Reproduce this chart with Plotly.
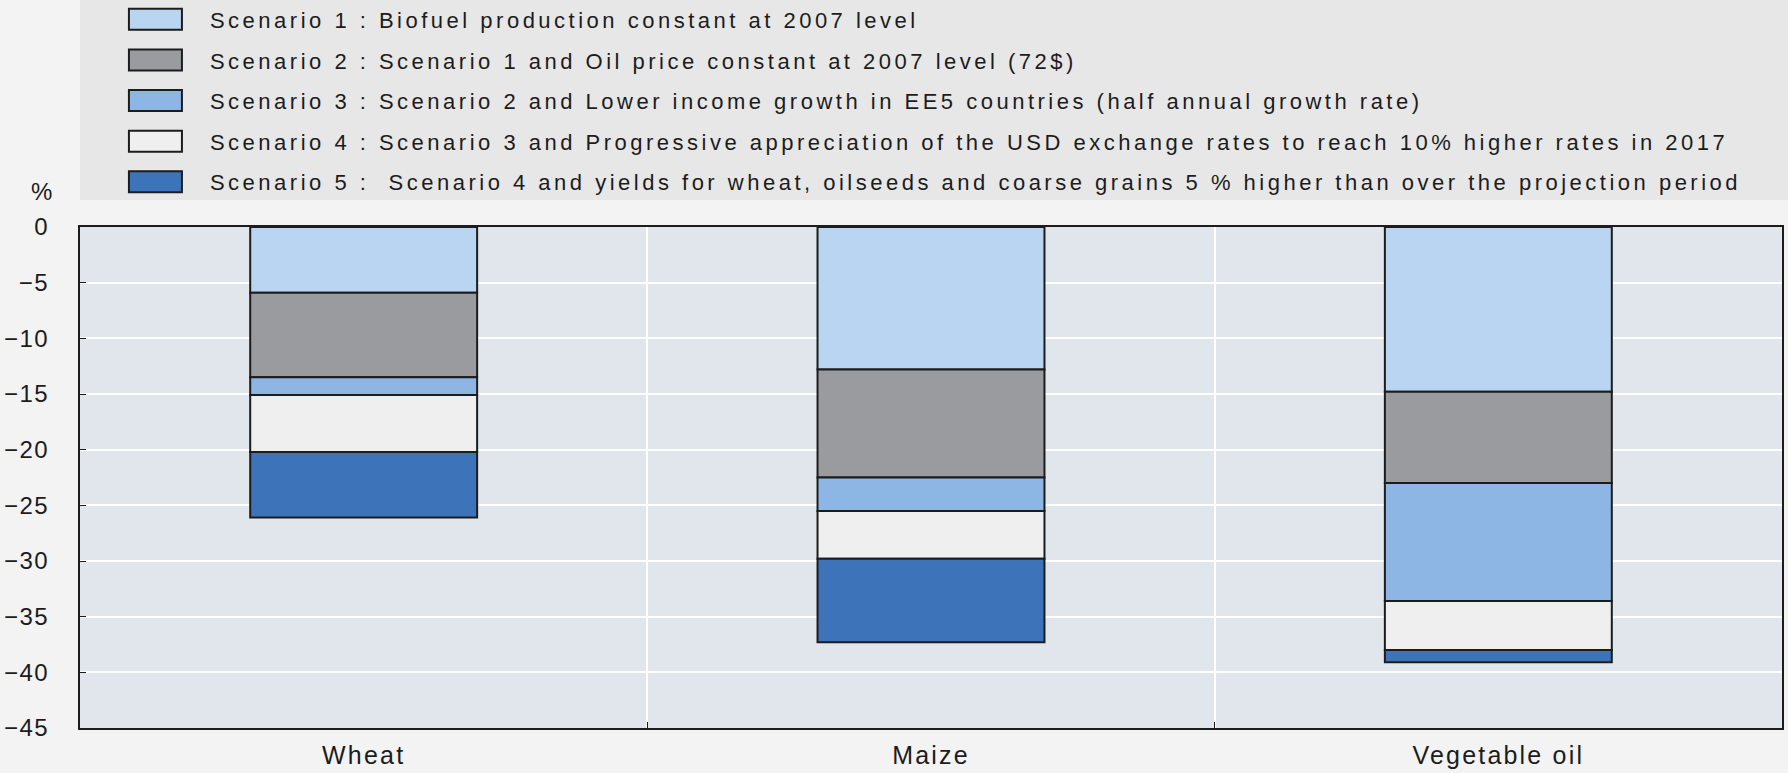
import plotly.graph_objects as go

# categories and scenario contributions (% change)
categories = ["Wheat", "Maize", "Vegetable oil"]
scenario_names = [
    "Scenario 1 : Biofuel production constant at 2007 level",
    "Scenario 2 : Scenario 1 and Oil price constant at 2007 level (72$)",
    "Scenario 3 : Scenario 2 and Lower income growth in EE5 countries (half annual growth rate)",
    "Scenario 4 : Scenario 3 and Progressive appreciation of the USD exchange rates to reach 10% higher rates in 2017",
    "Scenario 5 :  Scenario 4 and yields for wheat, oilseeds and coarse grains 5 % higher than over the projection period",
]
scenario1 = [-5.9, -12.8, -14.8]
scenario2 = [-7.6, -9.7, -8.2]
scenario3 = [-1.6, -3.0, -10.6]
scenario4 = [-5.1, -4.3, -4.4]
scenario5 = [-5.9, -7.5, -1.1]
y_ticks = [0, -5, -10, -15, -20, -25, -30, -35, -40, -45]

colors = ["#b9d5f2", "#9a9b9f", "#8db6e5", "#efeff0", "#3d74b9"]
series = [scenario1, scenario2, scenario3, scenario4, scenario5]

font_family = "Liberation Sans, Arial, sans-serif"
text_color = "#1c1c1c"

fig = go.Figure()
for i, (name, vals) in enumerate(zip(scenario_names, series)):
    fig.add_trace(go.Bar(
        x=categories, y=vals, name=name, legendgroup=f"s{i}",
        marker=dict(color=colors[i], line=dict(color="#1c1c1c", width=2)),
    ))

fig.update_layout(
    width=1788, height=773,
    margin=dict(l=80, r=6, t=227, b=45, autoexpand=False),
    paper_bgcolor="#f3f3f3", plot_bgcolor="#e1e6ec",
    barmode="relative", bargap=0.6,
    font=dict(family=font_family, color=text_color),
    legend=dict(
        x=0.0123, y=1.456, xanchor="left", yanchor="top",
        bgcolor="rgba(0,0,0,0)", font=dict(size=22, color=text_color),
        traceorder="grouped", tracegroupgap=9, itemwidth=99,
    ),
    showlegend=True,
)

# grey panel behind the legend
fig.add_shape(type="rect", xref="paper", yref="paper",
              x0=0, x1=1.004, y0=1.054, y1=1.46,
              fillcolor="#e7e7e7", line=dict(width=0), layer="below")

fig.add_annotation(text="%", xref="paper", yref="paper", x=-0.0153, y=1.07,
                   xanchor="right", yanchor="middle", showarrow=False,
                   font=dict(size=24, color=text_color))

fig.update_xaxes(
    showline=True, linecolor="#1c1c1c", linewidth=2, mirror=True,
    tickson="boundaries", ticks="inside", ticklen=6, tickcolor="#1c1c1c",
    showgrid=True, gridcolor="white", gridwidth=2,
    tickfont=dict(size=25, color=text_color), ticklabelstandoff=4,
)
fig.update_yaxes(
    range=[-45, 0], tickvals=y_ticks,
    showline=True, linecolor="#1c1c1c", linewidth=2, mirror=True,
    ticks="inside", ticklen=6, tickcolor="#1c1c1c",
    showgrid=True, gridcolor="white", gridwidth=2, zeroline=False,
    tickfont=dict(size=24, color=text_color), ticklabelstandoff=24,
)

# loose tracking and wide swatches as in the printed original
post = """
document.body.style.margin = '0';
var st = document.createElement('style');
st.textContent = '.legendtext{letter-spacing:3.5px} .xtick text{letter-spacing:2.2px} .ytick text{letter-spacing:1.5px}';
document.head.appendChild(st);
document.querySelectorAll('.legend, .legend [clip-path]').forEach(function(el){
    el.removeAttribute('clip-path');
});
document.querySelectorAll('.legend .legendpoints path').forEach(function(p){
    p.setAttribute('d', 'M26.5,10.5H-26.5V-10.5H26.5Z');
});
"""

fig.write_html("out.html", post_script=post, config={"displayModeBar": False})
